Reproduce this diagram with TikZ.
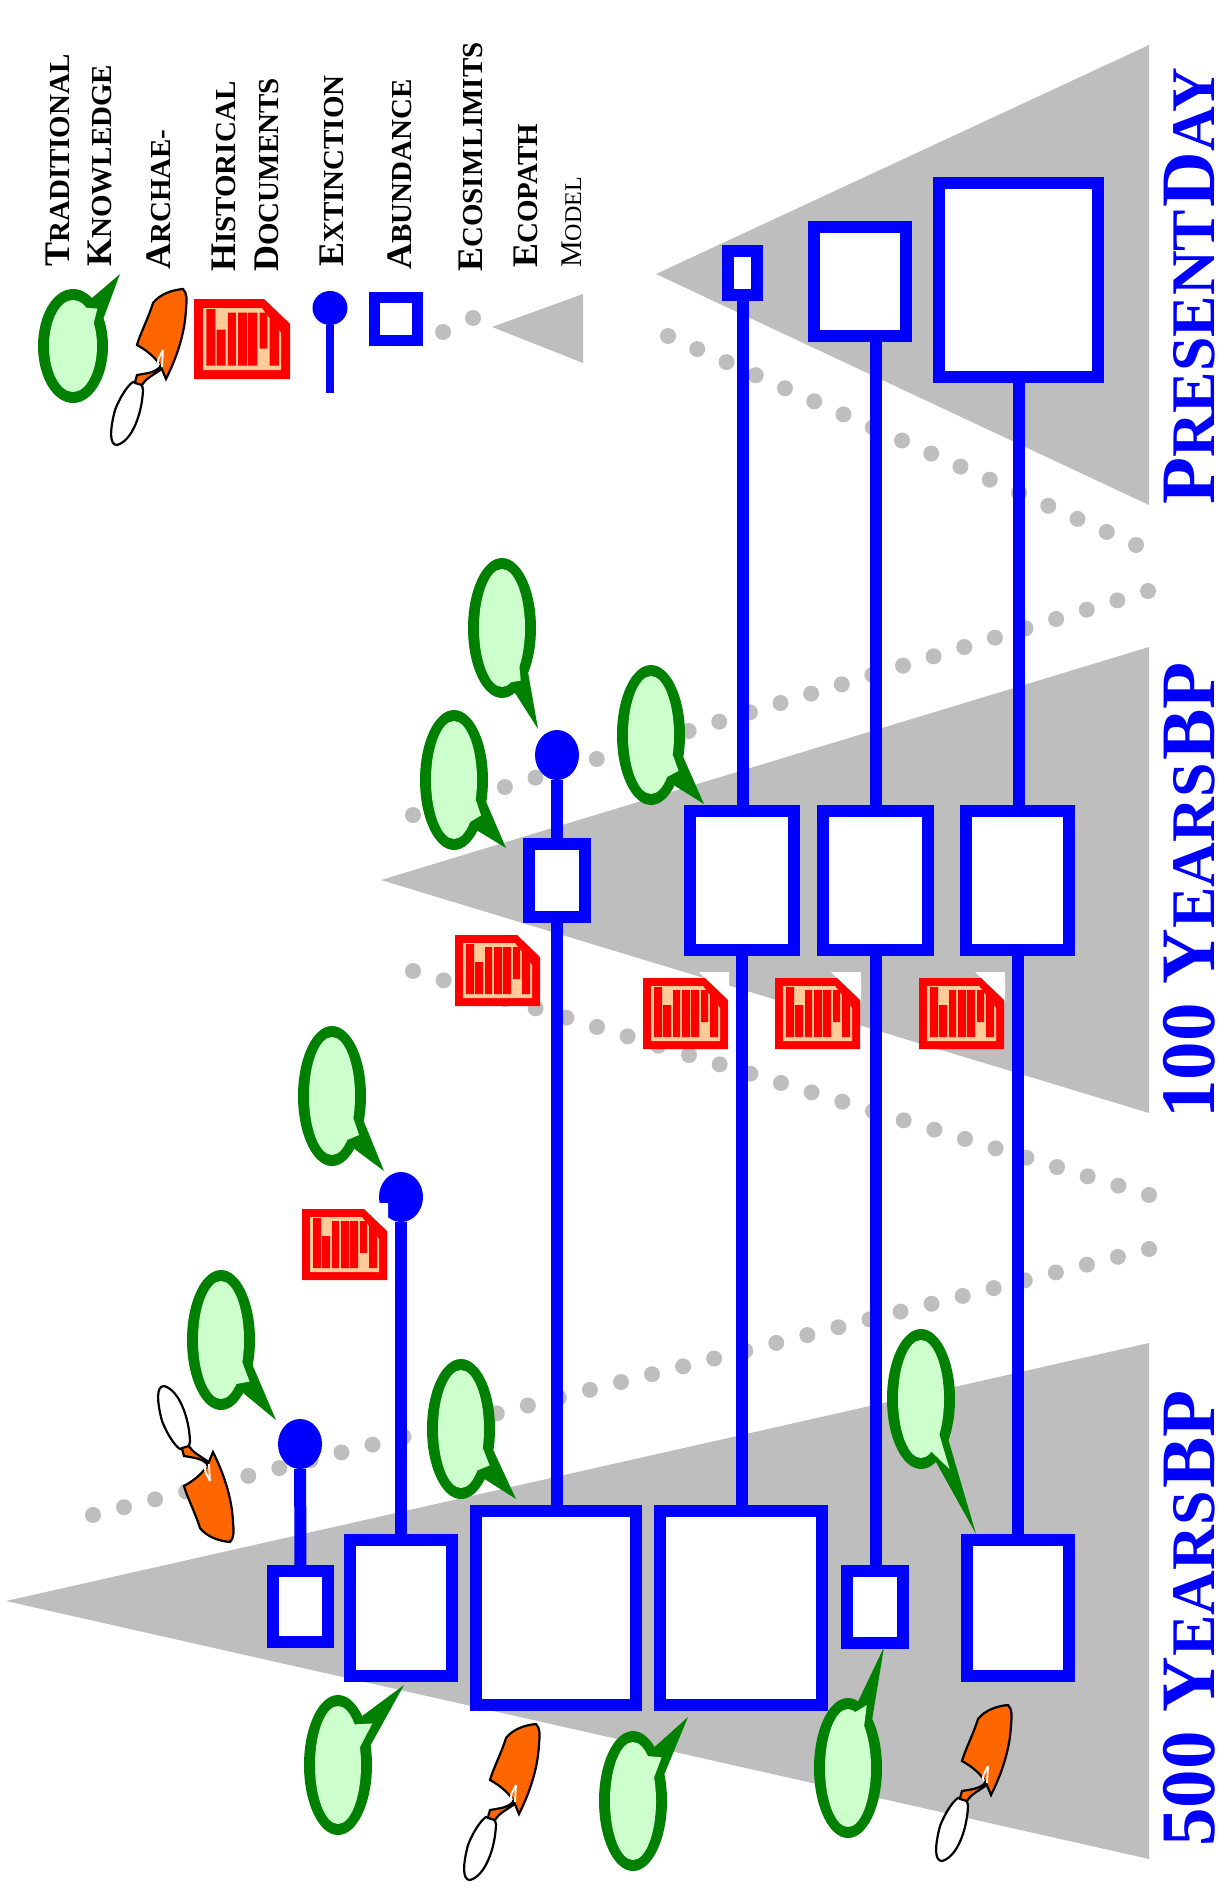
\documentclass[tikz,border=0pt]{standalone}
\usepackage{fontspec}
\setmainfont{Liberation Serif}
\usetikzlibrary{shapes.geometric}
\definecolor{bblue}{HTML}{0000FF}
\definecolor{bred}{HTML}{FF0000}
\definecolor{bgreen}{HTML}{008000}
\definecolor{blight}{HTML}{CCFFCC}
\definecolor{bgray}{HTML}{BEBEBE}
\definecolor{borange}{HTML}{FF6600}
\definecolor{bpeach}{HTML}{FFCC99}
\newcommand\Hb[1]{{\fontsize{77}{77}\selectfont #1}}
\newcommand\Hs[1]{{\fontsize{62}{62}\selectfont #1}}
\newcommand\Lb[1]{{\fontsize{36}{36}\selectfont #1}}
\newcommand\Ls[1]{{\fontsize{29}{29}\selectfont #1}}
\tikzset{
  hdr/.style={rotate=90,anchor=base west,inner sep=0,text=bblue,font=\bfseries},
  lgd/.style={rotate=90,anchor=base west,inner sep=0,text=black,font=\bfseries},
  lgdm/.style={rotate=90,anchor=base west,inner sep=0,text=black},
  absq/.style={draw=bblue,line width=12pt,fill=white,inner sep=0,outer sep=0,rectangle},
  lolli/.style={ellipse,fill=bblue,inner sep=0,outer sep=0,minimum width=44pt,minimum height=50pt},
  stem/.style={draw=bblue,line width=12pt},
  dotmark/.style={fill=bgray},
  tri/.style={fill=bgray},
}
\newcommand\sq[5]{%
  \pgfmathsetmacro\sqw{#4-#2-12}\pgfmathsetmacro\sqh{#5-#3-12}%
  \pgfmathsetmacro\sqx{(#2+#4)/2}\pgfmathsetmacro\sqy{(#3+#5)/2}%
  \node[absq,minimum width=\sqw pt,minimum height=\sqh pt] (#1) at (\sqx,\sqy) {};}
\newcommand\dotline[5]{%
  \foreach \i in {0,...,#5}{\fill[dotmark] ({#1+(#3-#1)/#5*\i},{#2+(#4-#2)/#5*\i}) circle (8);}}
\newcommand\bubble[6]{%
  \pgfmathsetmacro\th{atan2((#6-#2)/#4,(#5-#1)/#3)}%
  \pgfmathsetmacro\nx{#3-11}\pgfmathsetmacro\ny{#4-11}%
  \fill[bgreen] (#1,#2) ellipse ({#3} and {#4});
  \fill[bgreen] ({#1+#3*cos(\th+14)},{#2+#4*sin(\th+14)}) -- (#5,#6) -- ({#1+#3*cos(\th-14)},{#2+#4*sin(\th-14)}) -- cycle;
  \fill[blight] (#1,#2) ellipse ({\nx} and {\ny});
  \fill[blight] ({#1+\nx*cos(\th+13)},{#2+\ny*sin(\th+13)}) -- ({#1+0.52*(#5-#1)},{#2+0.52*(#6-#2)}) -- ({#1+\nx*cos(\th-13)},{#2+\ny*sin(\th-13)}) -- cycle;}
\newcommand\docicon[3]{%
  \begin{scope}[shift={(#1,#2)},scale=#3]
    \fill[white] (56,-6) -- (86,-6) -- (86,24) -- cycle;
    \fill[bred] (0,0) -- (62,0) -- (85,22) -- (85,71) -- (0,71) -- cycle;
    \fill[bpeach] (8,8) -- (60,8) -- (77,30) -- (77,63) -- (8,63) -- cycle;
    \fill[bred] (11,9) rectangle (19,59) (20,27) rectangle (28,59) (30,12) rectangle (37,59)
      (39,12) rectangle (47,59) (48,12) rectangle (56,59) (58,12) rectangle (65,44) (67,14) rectangle (75,59);
  \end{scope}}
\newcommand\trowel[3]{% x y yscale
  \begin{scope}[shift={(#1,#2)},yscale=#3]
    \draw[fill=white,line width=2.2pt] (29,93) .. controls (33,97) and (33,100) .. (33,101)
       .. controls (32,125) and (22,152) .. (7,156) .. controls (-1,156) and (0,140) .. (5,121)
       .. controls (10,108) and (18,96) .. (23,93) -- cycle;
    \draw[fill=borange,line width=2.2pt] (50,78) .. controls (44,84) and (38,84) .. (27,86)
       .. controls (26,90) and (25,92) .. (25,94) -- (32,96) .. controls (37,88) and (44,86) .. (53,79) -- cycle;
    \draw[fill=borange,line width=2.2pt,line join=miter] (27,56) .. controls (30,45) and (38,30) .. (43,14)
       .. controls (50,5) and (62,1) .. (73,0) .. controls (77,4) and (77,10) .. (76,20)
       .. controls (75,45) and (66,70) .. (56,90) -- (51,78)
       .. controls (47,70) and (38,62) .. (27,56) -- cycle;
    \draw[white,line width=1.8pt] (53,61) .. controls (49,69) and (46,73) .. (49,76) (53,61) -- (52,78);
  \end{scope}}
\begin{document}
\begin{tikzpicture}[x=1pt,y=-1pt]
\useasboundingbox (0,0) rectangle (1220,1887);
% time triangles
\fill[tri] (656,274) -- (1149,45) -- (1149,505) -- cycle;
\fill[tri] (381,880) -- (1149,647) -- (1149,1113) -- cycle;
\fill[tri] (6,1601) -- (1149,1343) -- (1149,1859) -- cycle;
% ecosim limits
\dotline{668}{336}{1136}{545}{16}
\dotline{1148}{591}{413}{815}{24}
\dotline{413}{971}{1149}{1195}{24}
\dotline{1149}{1249}{93}{1515}{34}
% abundance boxes
\sq{A}{722}{245}{763}{301}
\sq{B}{808}{221}{912}{342}
\sq{C}{933}{177}{1104}{383}
\sq{D}{523}{838}{591}{923}
\sq{E}{684}{805}{800}{956}
\sq{F}{817}{805}{934}{956}
\sq{G}{960}{805}{1075}{956}
\sq{H}{267}{1565}{334}{1648}
\sq{I}{344}{1534}{458}{1682}
\sq{J}{470}{1505}{642}{1711}
\sq{K}{654}{1505}{828}{1711}
\sq{L}{841}{1565}{909}{1649}
\sq{M}{961}{1534}{1075}{1682}
% extinctions
\node[lolli] (N) at (557,755) {};
\node[lolli] (O) at (401,1197) {};
\node[lolli] (P) at (300,1444) {};
% connectors
\draw[stem] (A.south) -- (A.south |- E.north);
\draw[stem] (F.north) -- (F.north |- B.south);
\draw[stem] (C.south) -- (C.south |- G.north);
\draw[stem] (E.south) -- (E.south |- K.north);
\draw[stem] (F.south) -- (F.south |- L.north);
\draw[stem] (G.south) -- (G.south |- M.north);
\draw[stem] (D.south) -- (D.south |- J.north);
\draw[stem] (N) -- (D.north);
\draw[stem] (O) -- (I.north);
\draw[stem] (P) -- (H.north);
% documents
\docicon{455}{935}{1}
\docicon{643}{978}{1}
\docicon{775}{978}{1}
\docicon{919}{978}{1}
\docicon{302}{1209}{1}
% traditional knowledge
\bubble{221}{1340}{34}{70}{276}{1420}
\bubble{332}{1096}{34}{70}{384}{1171}
\bubble{502}{628}{34}{70}{538}{729}
\bubble{454}{780}{34}{70}{506}{848}
\bubble{651}{735}{34}{70}{704}{804}
\bubble{461}{1429}{34}{70}{516}{1499}
\bubble{921}{1399}{34}{70}{976}{1534}
\bubble{338}{1765}{34}{70}{404}{1685}
\bubble{633}{1801}{34}{70}{688}{1717}
\bubble{848}{1768}{34}{70}{884}{1647}
% archaeology
\trowel{463}{1724}{1}
\trowel{935}{1705}{1}
\trowel{157}{1542}{-1}
% headers
\node[hdr] (h1) at (1214,505) {\Hb{P}\Hs{RESENT} \Hb{D}\Hs{AY}};
\node[hdr] (h2) at (1214,1119) {\Hb{100 Y}\Hs{EARS} \Hb{BP}};
\node[hdr] (h3) at (1214,1847) {\Hb{500 Y}\Hs{EARS} \Hb{BP}};
% legend
\bubble{73}{346}{35}{57}{120}{274}
\trowel{110}{289}{1}
\docicon{194}{299}{1.13}
\node[ellipse,fill=bblue,inner sep=0,outer sep=0,minimum width=35pt,minimum height=34pt] (lo) at (330,308) {};
\coordinate (loe) at (330,393);
\draw[draw=bblue,line width=8pt] (lo) -- (loe);
\node[absq,minimum width=43pt,minimum height=43pt,line width=11pt] (ls) at (395.5,319) {};
\fill[dotmark] (473,318) circle (8);
\fill[dotmark] (443,332) circle (8);
\fill[tri] (492,327) -- (583,294) -- (583,363) -- cycle;
\node[lgd] (l1) at (69,267) {\Lb{T}\Ls{RADITIONAL}};
\node[lgd] (l2) at (111,267) {\Lb{K}\Ls{NOWLEDGE}};
\node[lgd] (l3) at (170,270) {\Lb{A}\Ls{RCHAE-}};
\node[lgd] (l4) at (235,272) {\Lb{H}\Ls{ISTORICAL}};
\node[lgd] (l5) at (278,272) {\Lb{D}\Ls{OCUMENTS}};
\node[lgd] (l6) at (343,267) {\Lb{E}\Ls{XTINCTION}};
\node[lgd] (l7) at (411,270) {\Lb{A}\Ls{BUNDANCE}};
\node[lgd] (l8) at (482,272) {\Lb{E}\Ls{COSIM} \Ls{LIMITS}};
\node[lgd] (l9) at (537,268) {\Lb{E}\Ls{COPATH}};
\node[lgdm] (l10) at (581,268) {{\fontsize{30}{30}\selectfont M}{\fontsize{24}{24}\selectfont ODEL}};
\end{tikzpicture}
\end{document}
